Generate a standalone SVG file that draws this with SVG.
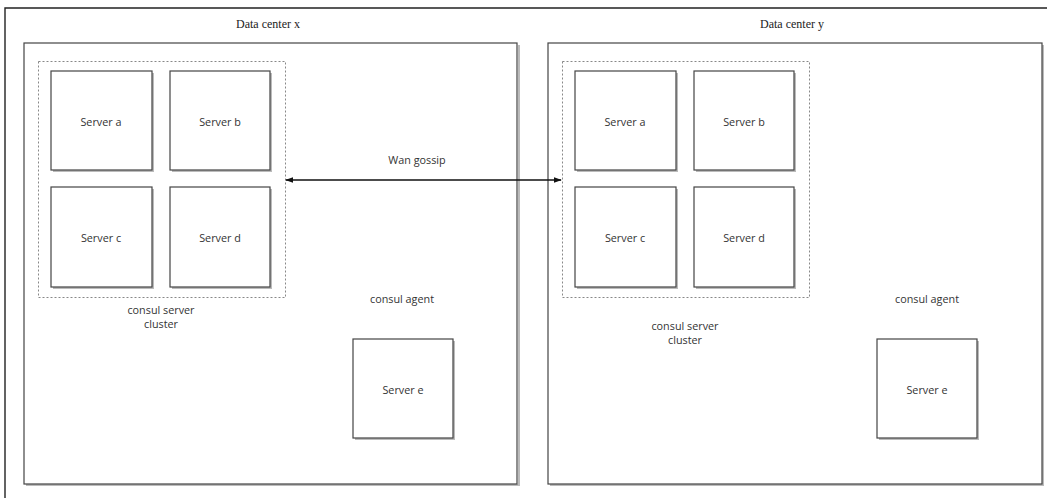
<svg xmlns="http://www.w3.org/2000/svg" width="1047" height="498" viewBox="0 0 1047 498">
<defs>
<style>
.frame{fill:none;stroke:#222;stroke-width:1.4}
.dc{fill:#fff;stroke:#444;stroke-width:1.2}
.srv{fill:#fff;stroke:#444;stroke-width:1.2}
.shadow{fill:none;stroke:#bbb;stroke-width:2}
.cluster{fill:none;stroke:#888;stroke-width:1;stroke-dasharray:2 2}
.lbl{font-family:"Open Sans","Liberation Sans",sans-serif;font-size:10.8px;fill:#333;text-anchor:middle;dominant-baseline:central}
.ttl{font-family:"Liberation Serif",serif;font-size:12px;fill:#222;text-anchor:middle;dominant-baseline:central}
.conn{stroke:#111;stroke-width:1.3;fill:none}
</style>
<marker id="ah" viewBox="0 0 10 10" refX="9" refY="5" markerWidth="8" markerHeight="8" orient="auto-start-reverse" markerUnits="userSpaceOnUse">
<path d="M0,1.5 L10,5 L0,8.5 Z" fill="#111"/>
</marker>
</defs>
<g id="frame">
<path class="frame" d="M5,498 V8 H1047"/>
</g>
<g id="dc-x">
<path class="shadow" d="M26,485 H519 V45"/>
<rect class="dc" x="24" y="43" width="493" height="441"/>
<text class="ttl" x="268" y="24">Data center x</text>
</g>
<g id="dc-y">
<path class="shadow" d="M550,485 H1043 V45"/>
<rect class="dc" x="548" y="43" width="494" height="441"/>
<text class="ttl" x="792" y="24">Data center y</text>
</g>
<g id="cluster-x">
<rect class="cluster" x="38.5" y="61.5" width="247" height="236"/>
<text class="lbl" x="161" y="309">consul server</text>
<text class="lbl" x="161" y="323">cluster</text>
</g>
<g id="x-server-a"><path class="shadow" d="M53,171 H153 V73"/><rect class="srv" x="51" y="71" width="101" height="99"/><text class="lbl" x="101" y="121">Server a</text></g>
<g id="x-server-b"><path class="shadow" d="M172,171 H271 V73"/><rect class="srv" x="170" y="71" width="100" height="99"/><text class="lbl" x="220" y="121">Server b</text></g>
<g id="x-server-c"><path class="shadow" d="M53,288 H153 V189"/><rect class="srv" x="51" y="187" width="101" height="100"/><text class="lbl" x="101" y="237">Server c</text></g>
<g id="x-server-d"><path class="shadow" d="M172,288 H271 V189"/><rect class="srv" x="170" y="187" width="100" height="100"/><text class="lbl" x="220" y="237">Server d</text></g>
<g id="x-agent">
<text class="lbl" x="402" y="298">consul agent</text>
<path class="shadow" d="M355,439 H454 V341"/>
<rect class="srv" x="353" y="339" width="100" height="99"/>
<text class="lbl" x="403" y="389">Server e</text>
</g>
<g id="cluster-y">
<rect class="cluster" x="562.5" y="61.5" width="247" height="236"/>
<text class="lbl" x="685" y="325">consul server</text>
<text class="lbl" x="685" y="339">cluster</text>
</g>
<g id="y-server-a"><path class="shadow" d="M577,171 H677 V73"/><rect class="srv" x="575" y="71" width="101" height="99"/><text class="lbl" x="625" y="121">Server a</text></g>
<g id="y-server-b"><path class="shadow" d="M696,171 H795 V73"/><rect class="srv" x="694" y="71" width="100" height="99"/><text class="lbl" x="744" y="121">Server b</text></g>
<g id="y-server-c"><path class="shadow" d="M577,288 H677 V189"/><rect class="srv" x="575" y="187" width="101" height="100"/><text class="lbl" x="625" y="237">Server c</text></g>
<g id="y-server-d"><path class="shadow" d="M696,288 H795 V189"/><rect class="srv" x="694" y="187" width="100" height="100"/><text class="lbl" x="744" y="237">Server d</text></g>
<g id="y-agent">
<text class="lbl" x="927" y="298">consul agent</text>
<path class="shadow" d="M879,439 H978 V341"/>
<rect class="srv" x="877" y="339" width="100" height="99"/>
<text class="lbl" x="927" y="389">Server e</text>
</g>
<g id="connectors">
<line class="conn" x1="286" y1="180" x2="561" y2="180" marker-start="url(#ah)" marker-end="url(#ah)"/>
<text class="lbl" x="417" y="159">Wan gossip</text>
</g>
</svg>
